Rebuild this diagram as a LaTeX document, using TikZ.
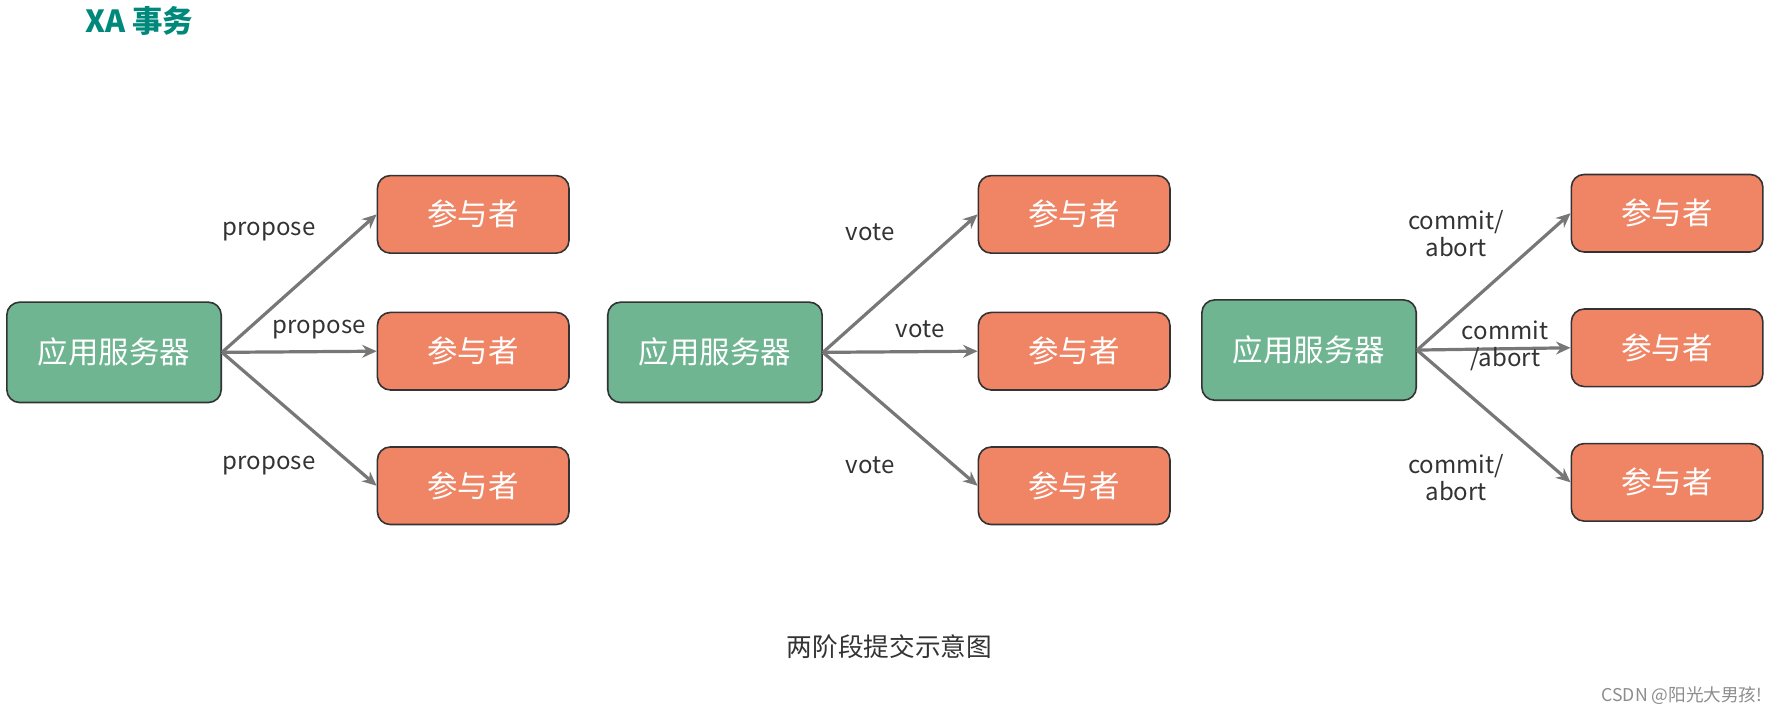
\documentclass[tikz,border=0pt]{standalone}
\usepackage{fontspec}
\setmainfont{Noto Sans CJK SC}
\usetikzlibrary{arrows.meta}
\definecolor{srv}{HTML}{6FB592}
\definecolor{par}{HTML}{F08566}
\definecolor{ttl}{HTML}{00897B}
\definecolor{arr}{HTML}{777777}
\begin{document}
\begin{tikzpicture}[x=0.025cm,y=-0.025cm,
 srvbox/.style={draw=black!80,line width=1pt,rounded corners=8pt,fill=srv,minimum width=188*0.025cm,minimum height=88*0.025cm,text=white,font=\fontsize{19}{19}\selectfont},
 parbox/.style={draw=black!80,line width=1pt,rounded corners=8pt,fill=par,minimum width=168*0.025cm,minimum height=68*0.025cm,text=white,font=\fontsize{19}{19}\selectfont},
 lab/.style={text=black!80,font=\fontsize{15}{17}\selectfont,align=center},
 con/.style={draw=arr,line width=2pt,-{Stealth[length=9pt,width=8pt]}}]
\useasboundingbox (0,0) rectangle (1568,628);
\node[text=ttl,font=\bfseries\fontsize{19}{19}\selectfont] (t) at (122,18) {XA 事务};
% group 1
\node[srvbox] (s1) at (100,309) {应用服务器};
\node[parbox] (p11) at (415,188) {参与者};
\node[parbox] (p12) at (415,308) {参与者};
\node[parbox] (p13) at (415,426) {参与者};
\draw[con] (s1.east) -- (p11.west);
\draw[con] (s1.east) -- (p12.west);
\draw[con] (s1.east) -- (p13.west);
\node[lab] (l11) at (236,203) {propose};
\node[lab] (l12) at (280,289) {propose};
\node[lab] (l13) at (236,408) {propose};
% group 2
\node[srvbox] (s2) at (627,309) {应用服务器};
\node[parbox] (p21) at (942,188) {参与者};
\node[parbox] (p22) at (942,308) {参与者};
\node[parbox] (p23) at (942,426) {参与者};
\draw[con] (s2.east) -- (p21.west);
\draw[con] (s2.east) -- (p22.west);
\draw[con] (s2.east) -- (p23.west);
\node[lab] (l21) at (763,204) {vote};
\node[lab] (l22) at (807,289) {vote};
\node[lab] (l23) at (763,408) {vote};
% group 3
\node[srvbox] (s3) at (1148,307) {应用服务器};
\node[parbox] (p31) at (1462,187) {参与者};
\node[parbox] (p32) at (1462,305) {参与者};
\node[parbox] (p33) at (1462,423) {参与者};
\draw[con] (s3.east) -- (p31.west);
\draw[con] (s3.east) -- (p32.west);
\draw[con] (s3.east) -- (p33.west);
\node[lab] (l31) at (1277,205) {commit/\\abort};
\node[lab] (l32) at (1320,303) {commit\\/abort};
\node[lab] (l33) at (1277,419) {commit/\\abort};
\node[lab,font=\fontsize{16}{16}\selectfont] (cap) at (780,567) {两阶段提交示意图};
\node[text=black!45,font=\fontsize{11}{11}\selectfont] (wm) at (1475,610) {CSDN @阳光大男孩!};
\end{tikzpicture}
\end{document}
